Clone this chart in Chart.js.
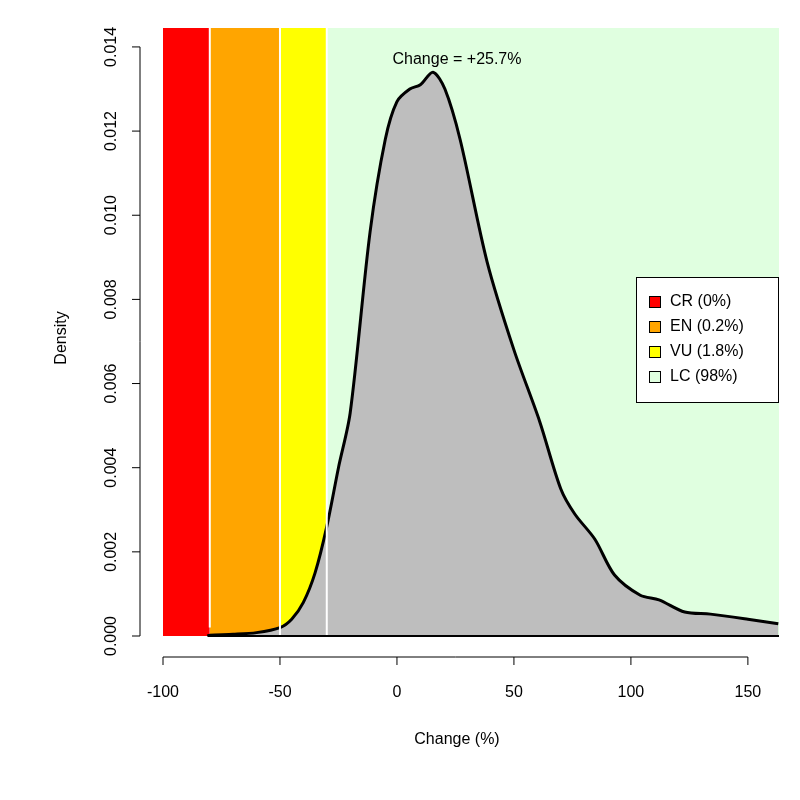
<!DOCTYPE html>
<html><head><meta charset="utf-8">
<script src="https://cdn.jsdelivr.net/npm/chart.js@4"></script>
<style>html,body{margin:0;background:#fff}#w{width:800px;height:800px}</style>
</head><body><div id="w"><canvas id="c"></canvas></div>
<script>
const densX = [-81,-80,-70,-60,-50,-45,-40,-35,-30,-25,-20,-11.5,-5,0,5.5,10,15.4,20.5,27,38.5,50,61,70,76,84.6,93,104,112,123,134,150,163];
const densY = [0,0.00002,0.00004,0.00008,0.0002,0.0004,0.0008,0.0015,0.0026,0.0040,0.0053,0.0096,0.0118,0.0127,0.0130,0.0131,0.0134,0.0130,0.0118,0.0089,0.0068,0.0051,0.0035,0.0029,0.0023,0.00145,0.00097,0.00086,0.00057,0.00052,0.0004,0.00029];
const bandEdges = [-100,-80,-50,-30,163.3];
const bandColors = ['#ff0000','#ffa500','#ffff00','#e0ffe0'];
const legendLabels = ['CR (0%)','EN (0.2%)','VU (1.8%)','LC (98%)'];
const xTicks = [-100,-50,0,50,100,150];
const yTicks = [0,0.002,0.004,0.006,0.008,0.010,0.012,0.014];
const annotation = 'Change = +25.7%';
const YMAX = 0.01445;

const datasets = [];
bandColors.forEach((c,i)=>{
  datasets.push({data:[{x:bandEdges[i],y:YMAX},{x:bandEdges[i+1],y:YMAX}],borderWidth:0,backgroundColor:c,fill:'origin',pointRadius:0,order:5});
});
datasets.push({data:densX.map((x,i)=>({x,y:densY[i]})),borderColor:'#000',borderWidth:3,backgroundColor:'#bebebe',fill:'origin',pointRadius:0,tension:0.3,order:1});

const F = '16px "Liberation Sans", Arial, sans-serif';
const deco = {id:'deco',
  afterDatasetsDraw(ch){
    const {ctx,scales:{x,y},chartArea:a}=ch;
    ctx.save();
    // white separators
    ctx.strokeStyle='#fff';ctx.lineWidth=2;
    [1,2,3].forEach(i=>{const px=x.getPixelForValue(bandEdges[i]);ctx.beginPath();ctx.moveTo(px,a.top);ctx.lineTo(px,y.getPixelForValue(0.0002*(i>1?0:1)+0.00001*0+ (i==1?0:0)));ctx.stroke();});
    // zero line
    ctx.strokeStyle='#000';ctx.lineWidth=2;
    ctx.beginPath();ctx.moveTo(x.getPixelForValue(-81),y.getPixelForValue(0));ctx.lineTo(a.right,y.getPixelForValue(0));ctx.stroke();
    ctx.fillStyle='#000';ctx.font=F;ctx.lineWidth=1;
    // x axis
    const ay=657;
    ctx.beginPath();ctx.moveTo(x.getPixelForValue(-100),ay);ctx.lineTo(x.getPixelForValue(150),ay);
    xTicks.forEach(t=>{const p=x.getPixelForValue(t);ctx.moveTo(p,ay);ctx.lineTo(p,ay+8);});
    ctx.stroke();
    ctx.textAlign='center';ctx.textBaseline='top';
    xTicks.forEach(t=>ctx.fillText(String(t),x.getPixelForValue(t),685));
    ctx.fillText('Change (%)',457,732);
    // y axis
    const ax=140;
    ctx.beginPath();ctx.moveTo(ax,y.getPixelForValue(0));ctx.lineTo(ax,y.getPixelForValue(0.014));
    yTicks.forEach(t=>{const p=y.getPixelForValue(t);ctx.moveTo(ax,p);ctx.lineTo(ax-8,p);});
    ctx.stroke();
    yTicks.forEach(t=>{const p=y.getPixelForValue(t);ctx.save();ctx.translate(112,p);ctx.rotate(-Math.PI/2);ctx.textAlign='center';ctx.textBaseline='middle';ctx.fillText(t.toFixed(3),0,0);ctx.restore();});
    ctx.save();ctx.translate(62,338);ctx.rotate(-Math.PI/2);ctx.textAlign='center';ctx.textBaseline='middle';ctx.fillText('Density',0,0);ctx.restore();
    // annotation
    ctx.textAlign='center';ctx.textBaseline='middle';ctx.fillText(annotation,457,60);
    // legend
    ctx.fillStyle='#fff';ctx.fillRect(636,277,142,125);ctx.strokeStyle='#000';ctx.strokeRect(636.5,277.5,142,125);
    ctx.textAlign='left';
    legendLabels.forEach((l,i)=>{const yy=302+i*25;ctx.fillStyle=bandColors[i];ctx.fillRect(649,yy-6,12,12);ctx.strokeRect(649.5,yy-5.5,11,11);ctx.fillStyle='#000';ctx.fillText(l,670,yy);});
    ctx.restore();
  }};

new Chart(document.getElementById('c'),{type:'line',data:{datasets},
  options:{responsive:true,maintainAspectRatio:false,animation:false,
    layout:{padding:{left:163,right:21,top:28,bottom:164}},
    plugins:{legend:{display:false},tooltip:{enabled:false}},
    scales:{x:{type:'linear',min:-100,max:163.3,display:false},y:{min:0,max:YMAX,display:false}}},
  plugins:[deco]});
</script></body></html>
